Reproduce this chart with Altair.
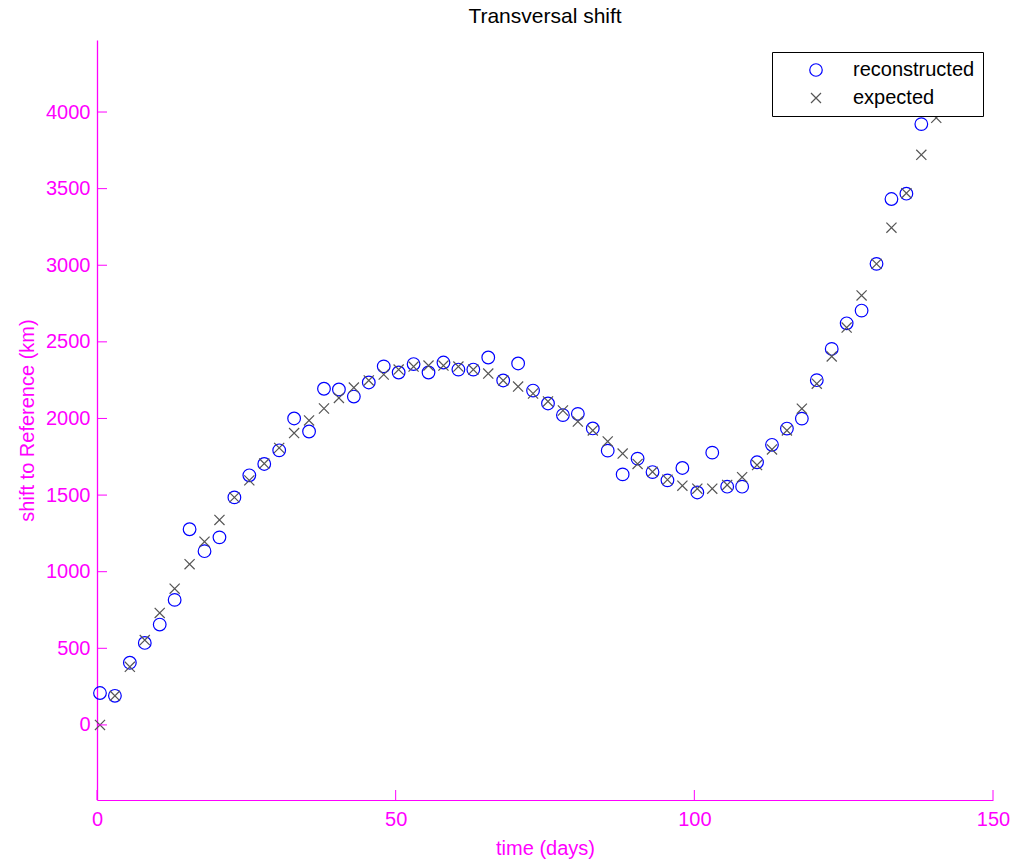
import altair as alt
import pandas as pd

# Sampling times (days)
times = [0.5, 3.0, 5.5, 8.0, 10.5, 13.0, 15.5, 18.0, 20.5, 23.0,
         25.5, 28.0, 30.5, 33.0, 35.5, 38.0, 40.5, 43.0, 45.5, 48.0,
         50.5, 53.0, 55.5, 58.0, 60.5, 63.0, 65.5, 68.0, 70.5, 73.0,
         75.5, 78.0, 80.5, 83.0, 85.5, 88.0, 90.5, 93.0, 95.5, 98.0,
         100.5, 103.0, 105.5, 108.0, 110.5, 113.0, 115.5, 118.0, 120.5, 123.0,
         125.5, 128.0, 130.5, 133.0, 135.5, 138.0, 140.5]

# Reconstructed shift (km)
reconstructed = [208, 190, 406, 535, 655, 816, 1277, 1134, 1224, 1485,
                 1629, 1703, 1792, 2000, 1915, 2194, 2189, 2143, 2235, 2340,
                 2300, 2355, 2300, 2365, 2319, 2319, 2398, 2248, 2359, 2182,
                 2098, 2022, 2030, 1935, 1790, 1635, 1738, 1650, 1596, 1677,
                 1517, 1777, 1555, 1555, 1714, 1828, 1934, 1999, 2250, 2454,
                 2621, 2704, 3009, 3432, 3467, 3921]

# Expected shift (km)
expected = [0, 190, 379, 554, 731, 889, 1049, 1196, 1338, 1485,
            1596, 1706, 1808, 1905, 1987, 2065, 2134, 2202, 2248, 2287,
            2319, 2339, 2345, 2345, 2339, 2319, 2293, 2248, 2208, 2163,
            2111, 2052, 1980, 1922, 1850, 1771, 1703, 1652, 1600, 1561,
            1542, 1542, 1566, 1617, 1696, 1798, 1922, 2064, 2227, 2405,
            2593, 2803, 3009, 3245, 3470, 3721, 3962]

series_names = ["reconstructed", "expected"]
y_ticks = [0, 500, 1000, 1500, 2000, 2500, 3000, 3500, 4000]
x_ticks = [0, 50, 100, 150]

rows = []
for t, v in zip(times, reconstructed):
    rows.append({"time": t, "shift": v, "series": "reconstructed"})
for t, v in zip(times, expected):
    rows.append({"time": t, "shift": v, "series": "expected"})
df = pd.DataFrame(rows)

MAGENTA = "#ff00ff"
FONT = "Liberation Sans"
X_PATH = "M-0.8,-0.8L0.8,0.8M-0.8,0.8L0.8,-0.8"

x_scale = alt.Scale(domain=[0, 150], nice=False, zero=False)
y_scale = alt.Scale(domain=[-490, 4470], nice=False, zero=False)

x_axis = alt.Axis(
    values=x_ticks,
    format="d",
    title="time (days)",
    labelPadding=9,
    labelFlush=False,
    titleX=448,
    titleY=48,
    titleAlign="center",
    titleBaseline="middle",
    domainColor=MAGENTA,
    grid=False,
)
y_axis = alt.Axis(
    values=y_ticks,
    format="d",
    title="shift to Reference (km)",
    labelPadding=7,
    labelFlush=False,
    titleX=-70,
    titleY=380,
    titleAngle=270,
    titleAlign="center",
    titleBaseline="middle",
    domainColor=MAGENTA,
    domainWidth=1.3,
    grid=False,
)

legend = alt.Legend(
    title=None,
    orient="none",
    legendX=675,
    legendY=12,
    padding=8,
    strokeColor="black",
    fillColor="white",
    symbolOffset=26,
    labelOffset=27,
    rowPadding=8,
    labelFontSize=20,
    labelFont=FONT,
    labelColor="black",
    labelLimit=400,
    symbolSize=156,
    symbolStrokeWidth=1.2,
)

points = alt.Chart(df).mark_point(
    filled=False, size=160, strokeWidth=1.2, opacity=1
).encode(
    x=alt.X("time:Q", scale=x_scale, axis=x_axis),
    y=alt.Y("shift:Q", scale=y_scale, axis=y_axis),
    color=alt.Color(
        "series:N",
        scale=alt.Scale(domain=series_names, range=["#0000ff", "#555555"]),
        legend=legend,
    ),
    shape=alt.Shape(
        "series:N",
        scale=alt.Scale(domain=series_names, range=["circle", X_PATH]),
        legend=legend,
    ),
)

# Inward-pointing tick marks on both axes
y_tick_marks = alt.Chart(pd.DataFrame({"shift": y_ticks})).mark_rule(
    color=MAGENTA, strokeWidth=1
).encode(
    y=alt.Y("shift:Q", scale=y_scale, axis=y_axis),
    x=alt.value(0),
    x2=alt.value(10),
)

x_tick_marks = alt.Chart(pd.DataFrame({"time": x_ticks})).mark_rule(
    color=MAGENTA, strokeWidth=1
).encode(
    x=alt.X("time:Q", scale=x_scale, axis=x_axis),
    y=alt.value(760),
    y2=alt.value(750),
)

chart = alt.layer(points, y_tick_marks, x_tick_marks).properties(
    width=896,
    height=760,
    padding={"left": 97, "top": 40, "right": 25, "bottom": 62},
    autosize=alt.AutoSizeParams(type="none"),
    background="white",
    title=alt.TitleParams(
        "Transversal shift",
        font=FONT,
        fontSize=21,
        fontWeight="normal",
        color="black",
        anchor="middle",
        frame="group",
        baseline="bottom",
        offset=14,
        dy=22,
    ),
).configure_axis(
    labelFont=FONT,
    labelFontSize=20,
    labelColor=MAGENTA,
    titleFont=FONT,
    titleFontSize=20,
    titleFontWeight="normal",
    titleColor=MAGENTA,
    domainColor=MAGENTA,
    domainWidth=1,
    ticks=False,
    grid=False,
).configure_view(stroke=None)

chart.save("out.html", embed_options={"renderer": "svg", "actions": False})
